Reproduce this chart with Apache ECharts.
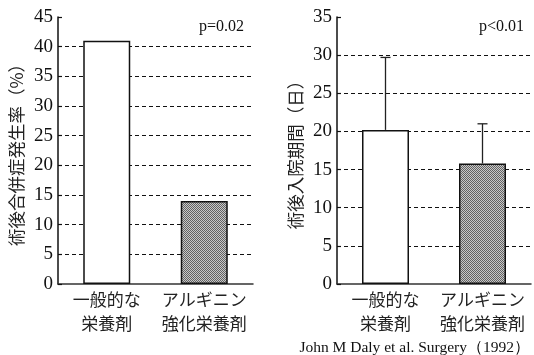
<!DOCTYPE html>
<html><head><meta charset="utf-8">
<script src="https://cdn.jsdelivr.net/npm/echarts@6/dist/echarts.min.js"></script>
<style>html,body{margin:0;padding:0;background:#fff}#c{width:534px;height:355px}</style>
</head><body><div id="c"></div>
<script>
const categories = ['一般的な\n栄養剤', 'アルギニン\n強化栄養剤'];
const complicationRate = [41, 14];
const hospitalDays = [20.2, 15.8];
const hospitalDaysUpper = [29.7, 21.0];
const leftTitle = '術後合併症発生率（%）';
const rightTitle = '術後入院期間（日）';
const leftP = 'p=0.02';
const rightP = 'p<0.01';
const citation = 'John M Daly et al. Surgery（1992）';

const pc = document.createElement('canvas');
pc.width = 4; pc.height = 4;
const g = pc.getContext('2d');
for (let y = 0; y < 4; y++) for (let x = 0; x < 4; x++) {
  g.fillStyle = ((x + y) % 2 === 0) ? '#626262' : '#c8c8c8';
  g.fillRect(x, y, 1, 1);
}
const pattern = { image: pc, repeat: 'repeat' };

const serif = 'Liberation Serif';
const cjk = 'Noto Sans CJK JP';

function yAxis(gi, max, name, nameGap) {
  return {
    gridIndex: gi, type: 'value', min: 0, max: max, interval: 5,
    name: name, nameLocation: 'middle', nameRotate: 90, nameGap: nameGap,
    nameTextStyle: { fontFamily: cjk, fontSize: 17.5, color: '#222' },
    axisLine: { show: true, lineStyle: { color: '#111', width: 1.5 } },
    axisTick: { show: true, inside: true, length: 4, lineStyle: { color: '#111', width: 1.2 } },
    axisLabel: { fontFamily: serif, fontSize: 19, color: '#111', margin: 5 },
    splitLine: { show: true, showMaxLine: false, showMinLine: false,
      lineStyle: { type: [4, 3], color: '#111', width: 1 } }
  };
}
function xAxis(gi) {
  return {
    gridIndex: gi, type: 'category', data: categories,
    axisLine: { lineStyle: { color: '#333', width: 1.5 } },
    axisTick: { show: false },
    axisLabel: { fontFamily: cjk, fontSize: 17, color: '#222', lineHeight: 24, margin: 4, interval: 0 }
  };
}

const chart = echarts.init(document.getElementById('c'), null, { renderer: 'canvas' });
chart.setOption({
  animation: false,
  backgroundColor: '#fff',
  grid: [
    { left: 58, top: 17, width: 195, height: 267 },
    { left: 337, top: 17, width: 194, height: 267 }
  ],
  xAxis: [xAxis(0), xAxis(1)],
  yAxis: [yAxis(0, 45, leftTitle, 33), yAxis(1, 35, rightTitle, 33)],
  title: [
    { text: leftP, right: 285, top: 14, textStyle: { fontFamily: serif, fontSize: 16, fontWeight: 'normal', color: '#111' } },
    { text: rightP, right: 5, top: 14, textStyle: { fontFamily: serif, fontSize: 16, fontWeight: 'normal', color: '#111' } },
    { text: citation, right: -1, top: 335, textStyle: { fontFamily: serif, fontSize: 15.5, fontWeight: 'normal', color: '#111' } }
  ],
  series: [
    { type: 'bar', xAxisIndex: 0, yAxisIndex: 0, barWidth: 47,
      data: complicationRate.map((v, i) => ({ value: v, itemStyle: { color: i === 0 ? '#fff' : pattern } })),
      itemStyle: { borderColor: '#111', borderWidth: 1.5 } },
    { type: 'custom', xAxisIndex: 1, yAxisIndex: 1, z: 1,
      data: hospitalDays.map((v, i) => [i, v, hospitalDaysUpper[i]]),
      renderItem: function (params, api) {
        const base = api.coord([api.value(0), api.value(1)]);
        const top = api.coord([api.value(0), api.value(2)]);
        return { type: 'group', children: [
          { type: 'line', shape: { x1: base[0], y1: base[1], x2: top[0], y2: top[1] }, style: { stroke: '#222', lineWidth: 1.3 } },
          { type: 'line', shape: { x1: top[0] - 5, y1: top[1], x2: top[0] + 5, y2: top[1] }, style: { stroke: '#222', lineWidth: 1.3 } }
        ] };
      } },
    { type: 'bar', xAxisIndex: 1, yAxisIndex: 1, barWidth: 47, z: 3,
      data: hospitalDays.map((v, i) => ({ value: v, itemStyle: { color: i === 0 ? '#fff' : pattern } })),
      itemStyle: { borderColor: '#111', borderWidth: 1.5 } }
  ]
});
</script></body></html>
